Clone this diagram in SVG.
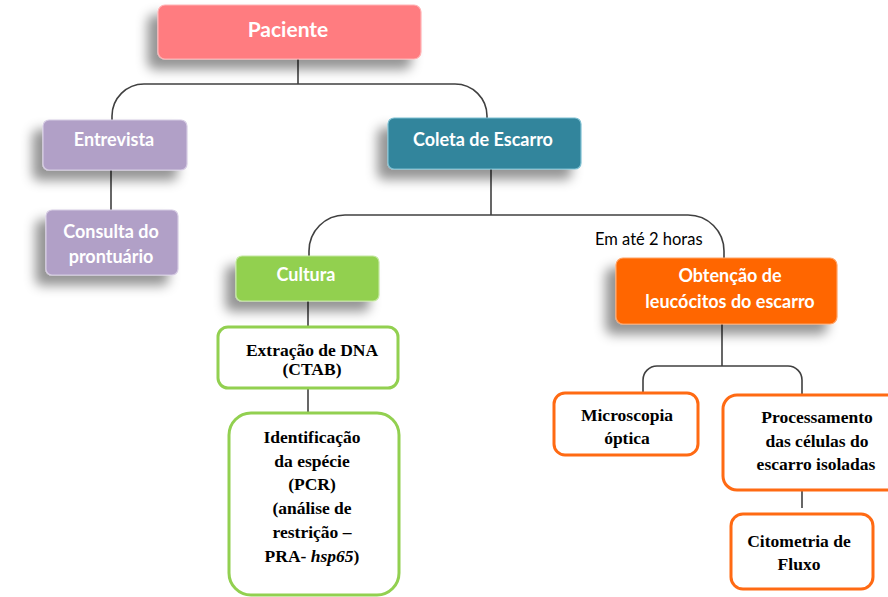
<svg xmlns="http://www.w3.org/2000/svg" width="888" height="597" viewBox="0 0 888 597">
<defs>
<filter id="sh" x="-30%" y="-40%" width="160%" height="200%">
<feGaussianBlur in="SourceAlpha" stdDeviation="6"/>
<feOffset dx="-10" dy="10" result="b"/>
<feFlood flood-color="#000" flood-opacity="0.42"/>
<feComposite in2="b" operator="in"/>
<feMerge><feMergeNode/><feMergeNode in="SourceGraphic"/></feMerge>
</filter>
</defs>
<style>
.lnk{fill:none;stroke:#404040;stroke-width:1.6}
.cbox{filter:url(#sh);stroke-width:1.2}
.ct{font-family:Lato,"Open Sans",sans-serif;font-weight:bold;fill:#fff;text-anchor:middle;font-size:18px}
.ct.big{font-size:21px}
.wt{font-family:"Liberation Serif","Times New Roman",serif;font-weight:bold;font-size:17.5px;fill:#000;text-anchor:middle}
.gbox{fill:#fff;stroke:#92D050;stroke-width:3}
.obox{fill:#fff;stroke:#FF6A13;stroke-width:3}
.lbl{font-family:Lato,"Open Sans",sans-serif;font-size:16.5px;fill:#000}
</style>
<rect width="888" height="597" fill="#fff"/>
<g id="connectors">
<path class="lnk" d="M298 59 V84"/>
<path class="lnk" d="M112 120 V116 A32 32 0 0 1 144 84 H455 A32 32 0 0 1 487 116 V118"/>
<path class="lnk" d="M111 170 V210"/>
<path class="lnk" d="M491 169 V215"/>
<path class="lnk" d="M309 256 V251 A36 36 0 0 1 345 215 H688 A36 36 0 0 1 724 251 V258"/>
<path class="lnk" d="M308 301 V327"/>
<path class="lnk" d="M308 388 V413"/>
<path class="lnk" d="M722 324 V366"/>
<path class="lnk" d="M643 393 V380 A14 14 0 0 1 657 366 H788 A14 14 0 0 1 802 380 V395"/>
<path class="lnk" d="M802 490 V508"/>
<text class="lbl" x="595" y="245">Em até 2 horas</text>
</g>
<g id="paciente">
<rect class="cbox" x="158" y="5" width="263" height="54" rx="7" fill="#FF7C80" stroke="#FFB3B5"/>
<text class="ct big" x="288" y="37">Paciente</text>
</g>
<g id="entrevista">
<rect class="cbox" x="43" y="120" width="144" height="50" rx="6" fill="#B1A0C7" stroke="#D6CCE3"/>
<text class="ct" x="114" y="146">Entrevista</text>
</g>
<g id="consulta">
<rect class="cbox" x="46" y="210" width="132" height="65" rx="6" fill="#B1A0C7" stroke="#D6CCE3"/>
<text class="ct" x="111" y="238">Consulta do</text>
<text class="ct" x="111" y="263">prontuário</text>
</g>
<g id="coleta">
<rect class="cbox" x="388" y="118" width="193" height="51" rx="6" fill="#31859C" stroke="#7FC0D2"/>
<text class="ct" x="483" y="146">Coleta de Escarro</text>
</g>
<g id="cultura">
<rect class="cbox" x="236" y="256" width="143" height="45" rx="6" fill="#92D050" stroke="#C4E8A0"/>
<text class="ct" x="306" y="281">Cultura</text>
</g>
<g id="obtencao">
<rect class="cbox" x="616" y="258" width="221" height="66" rx="7" fill="#FF6600" stroke="#FFA366"/>
<text class="ct" x="730" y="282">Obtenção de</text>
<text class="ct" x="730" y="308">leucócitos do escarro</text>
</g>
<g id="extracao">
<rect class="gbox" x="218" y="327" width="180" height="61" rx="10"/>
<text class="wt" x="312" y="356">Extração de DNA</text>
<text class="wt" x="312" y="375">(CTAB)</text>
</g>
<g id="identificacao">
<rect class="gbox" x="229" y="413" width="170" height="182" rx="22"/>
<text class="wt" x="312" y="443">Identificação</text>
<text class="wt" x="312" y="467">da espécie</text>
<text class="wt" x="312" y="490">(PCR)</text>
<text class="wt" x="312" y="514">(análise de</text>
<text class="wt" x="312" y="538">restrição –</text>
<text class="wt" x="312" y="562">PRA- <tspan font-style="italic">hsp65</tspan>)</text>
</g>
<g id="microscopia">
<rect class="obox" x="554" y="393" width="144" height="62" rx="11"/>
<text class="wt" x="627" y="421">Microscopia</text>
<text class="wt" x="627" y="444">óptica</text>
</g>
<g id="processamento">
<rect class="obox" x="723" y="395" width="180" height="95" rx="14"/>
<text class="wt" x="817" y="423">Processamento</text>
<text class="wt" x="817" y="447">das células do</text>
<text class="wt" x="816" y="470">escarro isoladas</text>
</g>
<g id="citometria">
<rect class="obox" x="731" y="514" width="142" height="75" rx="12"/>
<text class="wt" x="799" y="547">Citometria de</text>
<text class="wt" x="799" y="570">Fluxo</text>
</g>
</svg>
